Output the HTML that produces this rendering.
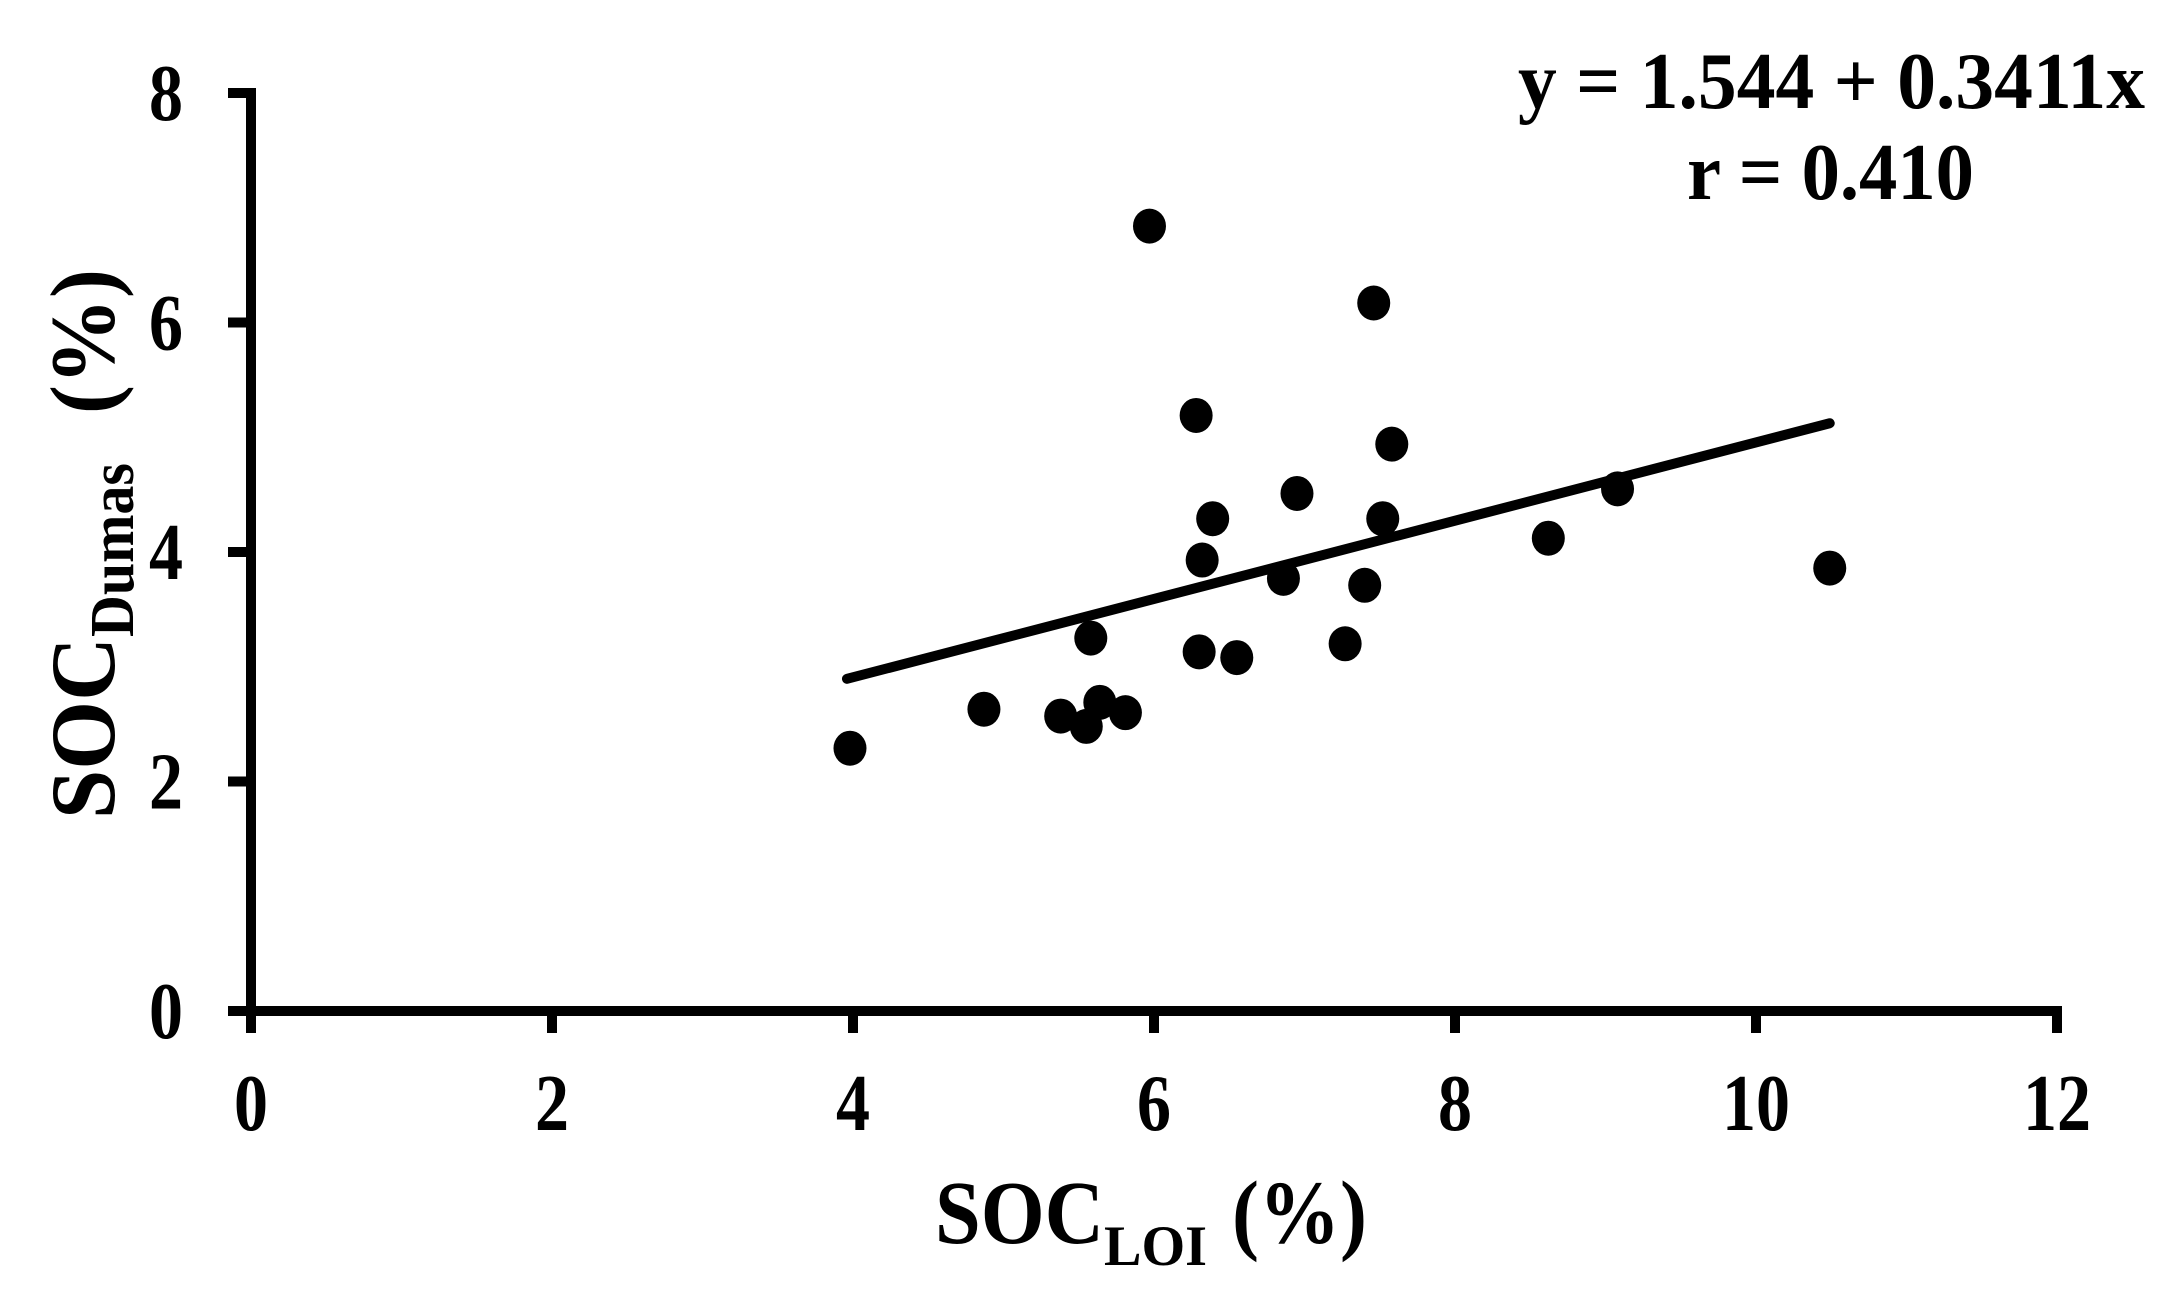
<!DOCTYPE html>
<html><head><meta charset="utf-8"><style>
html,body{margin:0;padding:0;background:#fff;}
svg{display:block;}
text{font-family:"Liberation Serif",serif;font-weight:bold;fill:#000;}
</style></head><body>
<svg id="chart" width="2168" height="1306" viewBox="0 0 2168 1306" xmlns="http://www.w3.org/2000/svg">
<g id="axes"></g>
<g id="marks"></g>
<g id="labels">
<text x="1518" y="108" font-size="80" textLength="627" lengthAdjust="spacingAndGlyphs">y = 1.544 + 0.3411x</text>
<text x="1687" y="199" font-size="80" textLength="287" lengthAdjust="spacingAndGlyphs">r = 0.410</text>
<text x="935" y="1243" font-size="90"><tspan textLength="169" lengthAdjust="spacingAndGlyphs">SOC</tspan><tspan font-size="57" dy="22" textLength="103" lengthAdjust="spacingAndGlyphs">LOI</tspan><tspan dy="-22" dx="25" textLength="135" lengthAdjust="spacingAndGlyphs">(%)</tspan></text>
<text transform="translate(114,819) rotate(-90)" font-size="92"><tspan x="0" y="0" textLength="182" lengthAdjust="spacingAndGlyphs">SOC</tspan><tspan font-size="62" dy="19" textLength="174" lengthAdjust="spacingAndGlyphs">Dumas</tspan><tspan dy="-19" dx="49" textLength="145" lengthAdjust="spacingAndGlyphs">(%)</tspan></text>
</g>
</svg>
<script>
const xTicks = [0, 2, 4, 6, 8, 10, 12];
const yTicks = [0, 2, 4, 6, 8];
const socLoi = [3.98, 4.87, 5.38, 5.55, 5.58, 5.64, 5.81, 5.97, 6.28, 6.30, 6.32, 6.39, 6.55, 6.86, 6.95, 7.27, 7.40, 7.46, 7.52, 7.58, 8.62, 9.08, 10.49];
const socDumas = [2.29, 2.63, 2.57, 2.48, 3.25, 2.69, 2.60, 6.84, 5.19, 3.13, 3.93, 4.29, 3.08, 3.77, 4.51, 3.20, 3.71, 6.17, 4.29, 4.94, 4.12, 4.55, 3.86];
const fitIntercept = 1.544;
const fitSlope = 0.3411;
const fitRange = [3.96, 10.49];

const NS = "http://www.w3.org/2000/svg";
const X0 = 251, X1 = 2057, Y0 = 1011, Y1 = 93;
function sx(v){ return X0 + (v - 0) / 12 * (X1 - X0); }
function sy(v){ return Y0 - (v - 0) / 8 * (Y0 - Y1); }
function mk(tag, attrs, parent){
  const e = document.createElementNS(NS, tag);
  for (const k in attrs) e.setAttribute(k, attrs[k]);
  parent.appendChild(e);
  return e;
}
const axes = document.getElementById('axes');
const marks = document.getElementById('marks');

let l = mk('line', {x1: X0, y1: Y1 - 5, x2: X0, y2: Y0 + 22, stroke: '#000', 'stroke-width': 10}, axes);


l = mk('line', {x1: X0 - 23, y1: Y0, x2: X1 + 5, y2: Y0, stroke: '#000', 'stroke-width': 10}, axes);



yTicks.forEach(t => {
  const tk = mk('line', {x1: X0 - 23, y1: sy(t), x2: X0, y2: sy(t), stroke: '#000', 'stroke-width': 10}, axes);
  
  
  const s = String(t);
  const tx = mk('text', {x: 183 - 34 * s.length, y: sy(t) + 27, 'font-size': 80, textLength: 34 * s.length, lengthAdjust: 'spacingAndGlyphs'}, axes);
  tx.textContent = s;
  
  
});
xTicks.forEach(t => {
  const tk = mk('line', {x1: sx(t), y1: Y0, x2: sx(t), y2: Y0 + 22, stroke: '#000', 'stroke-width': 10}, axes);
  
  
  const s = String(t);
  const tx = mk('text', {x: sx(t) - 17 * s.length, y: 1130, 'font-size': 80, textLength: 34 * s.length, lengthAdjust: 'spacingAndGlyphs'}, axes);
  tx.textContent = s;
  
  
});

const fit = mk('line', {
  x1: sx(fitRange[0]), y1: sy(fitIntercept + fitSlope * fitRange[0]),
  x2: sx(fitRange[1]), y2: sy(fitIntercept + fitSlope * fitRange[1]),
  stroke: '#000', 'stroke-width': 10, 'stroke-linecap': 'round'}, marks);



socLoi.forEach((v, i) => {
  const c = mk('ellipse', {cx: sx(v), cy: sy(socDumas[i]), rx: 16.5, ry: 17.5, fill: '#000'}, marks);
  
  
});
</script>
</body></html>
